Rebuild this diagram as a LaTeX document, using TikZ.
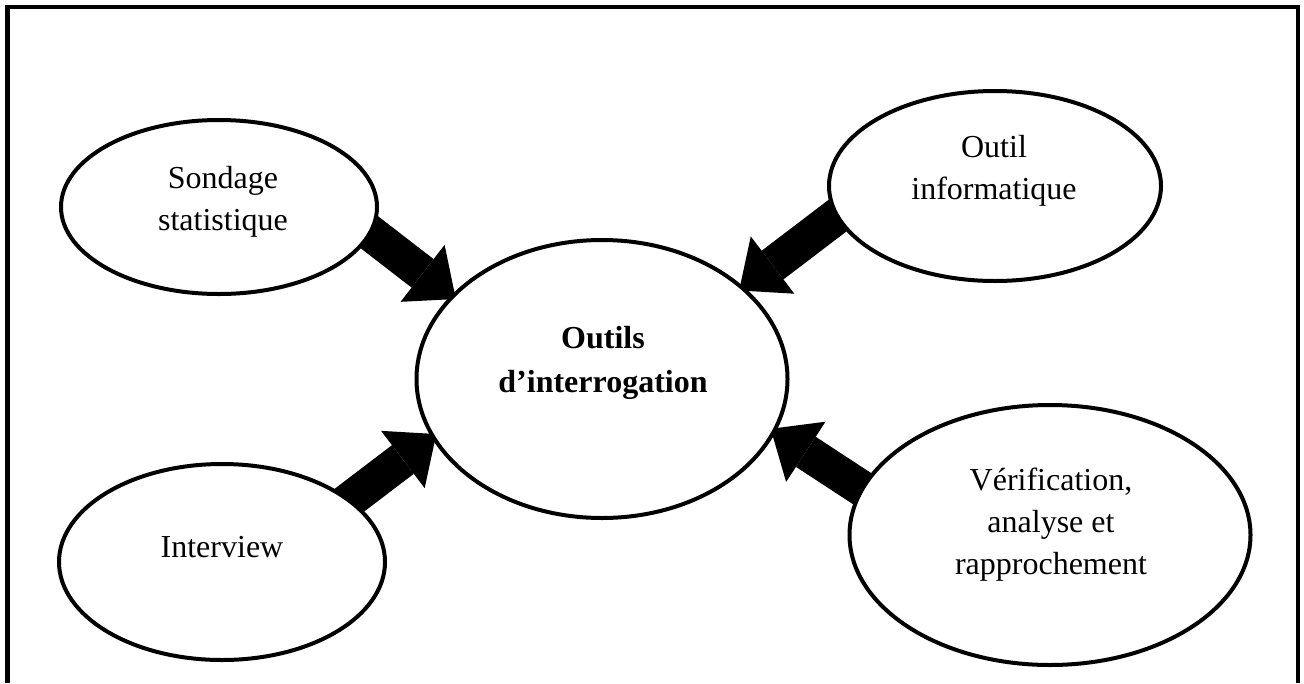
\documentclass[tikz,border=0pt]{standalone}
\usepackage{fontspec}
\setmainfont{Liberation Serif}
\usetikzlibrary{shapes.geometric,arrows.meta,backgrounds}
\begin{document}
\begin{tikzpicture}[x=1pt, y=-1pt,
    bulle/.style={ellipse, draw, line width=4pt, fill=white, inner sep=0pt},
    texte/.style={align=center, font=\fontsize{32}{42}\selectfont},
    fleche/.style={line width=36pt, -{Triangle[length=42pt, width=72pt, line width=0pt]},
                   shorten <=-30pt, shorten >=-6pt}]
    \useasboundingbox (0,0) rectangle (1304,683);

    % Cadre (ouvert en bas)
    \draw[line width=4.5pt] (7.5,683) -- (7.5,7) -- (1298,7) -- (1298,683);

    % Ellipses
    \node[bulle, minimum width=316pt, minimum height=174pt] (sond) at (219,207) {};
    \node[bulle, minimum width=332pt, minimum height=190pt] (info) at (995,186) {};
    \node[bulle, minimum width=326pt, minimum height=196pt] (inter) at (222,562) {};
    \node[bulle, minimum width=401pt, minimum height=260pt] (verif) at (1050,535) {};
    \node[bulle, minimum width=371pt, minimum height=278pt] (centre) at (602,379) {};

    % Textes
    \node[texte] (sond-t) at (223,201.5) {Sondage\\statistique};
    \node[texte] (info-t) at (994,170.5) {Outil\\informatique};
    \node[texte] (inter-t) at (222,547.5) {Interview};
    \node[texte] (verif-t) at (1051,525) {Vérification,\\analyse et\\rapprochement};
    \node[texte, font=\bfseries\fontsize{32}{44}\selectfont] (centre-t) at (603,363) {Outils\\d’interrogation};

    % Fleches vers le centre
    \begin{scope}[on background layer]
        \draw[fleche] (sond.-10) -- (centre.151);
        \draw[fleche] (info.191) -- (centre.33);
        \draw[fleche] (inter.26) -- (centre.199);
        \draw[fleche] (verif.166) -- (centre.-17);
    \end{scope}
\end{tikzpicture}
\end{document}
